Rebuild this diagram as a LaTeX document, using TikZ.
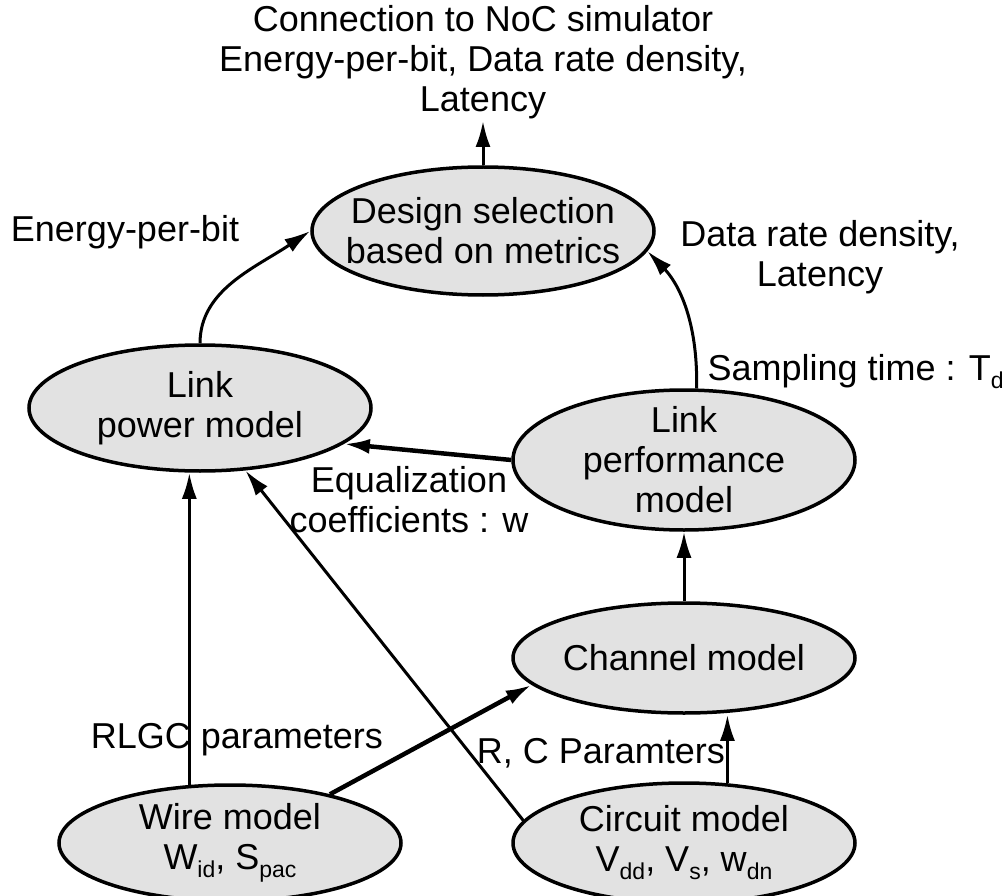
\documentclass[tikz,border=0pt]{standalone}
\usepackage{fontspec}
\setmainfont{Liberation Sans}
\usetikzlibrary{shapes.geometric,arrows.meta}
\newcommand{\lsub}[1]{\raisebox{-0.22em}{\fontsize{23}{23}\selectfont #1}}
\tikzset{
  model/.style={draw, line width=3.5pt, ellipse, inner sep=0pt, minimum width=342pt, fill={rgb, 255:red, 226; green, 226; blue, 226}},
  flow/.style={line width=3pt, -{Latex[length=26pt,width=15pt]}},
  thickflow/.style={flow, line width=4.5pt},
}

\begin{document}
\begin{tikzpicture}[x=1pt,y=1pt,yscale=-1,font=\fontsize{36}{40}\selectfont]
\useasboundingbox (0,0) rectangle (1007,896);

%Ellipse: design selection
\node[model, minimum height=128pt] (design) at (483,231) {};
\node[align=center] at (design) {Design selection\\based on metrics};
%Ellipse: link power
\node[model, minimum height=126pt] (power) at (200,408) {};
\node[align=center] at (power) {Link\\power model};
%Ellipse: link performance
\node[model, minimum height=140pt] (perf) at (684,460) {};
\node[align=center] at (perf) {Link\\performance\\model};
%Ellipse: channel
\node[model, minimum height=110pt] (channel) at (684,658) {};
\node at (channel) {Channel model};
%Ellipse: wire
\node[model, minimum height=116pt] (wire) at (230,843) {};
\node[align=center] at (wire) {Wire model\\W\lsub{id}, S\lsub{pac}};
%Ellipse: circuit
\node[model, minimum height=120pt] (circuit) at (684,843) {};
\node[align=center] at (circuit) {Circuit model\\V\lsub{dd}, V\lsub{s}, w\lsub{dn}};

%Output text
\node[align=center, inner sep=2pt] (noc) at (483,62) {Connection to NoC simulator\\Energy-per-bit, Data rate density,\\Latency};

%Labels
\node (lenergy) at (125,232) {Energy-per-bit};
\node[align=center] (lrate) at (820,257) {Data rate density,\\Latency};
\node[anchor=west] (lsample) at (704,372) {Sampling time : T\lsub{d}};
\node[align=center] (leq) at (409,500) {Equalization\\coefficients : w};
\node (lrlgc) at (237,740) {RLGC parameters};
\node (lrc) at (601,753) {R, C Paramters};

%Arrows
\draw[flow] (design.north) -- (design.north |- noc.south);
\draw[flow] (power.north) .. controls (200,290) and (255,268) .. (design.west);
\draw[flow] (perf.80) .. controls (698,320) and (678,283) .. (design.353);
\draw[thickflow] (perf.west) -- (power.346);
\draw[flow] (channel.north) -- (perf.south);
\draw[flow] (wire.125) -- (wire.125 |- power.south);
\draw[flow] (circuit.172) -- (power.306);
\draw[thickflow] (wire.26) -- (channel.190);
\draw[flow] (circuit.54) -- (circuit.54 |- channel.south);

\end{tikzpicture}
\end{document}
